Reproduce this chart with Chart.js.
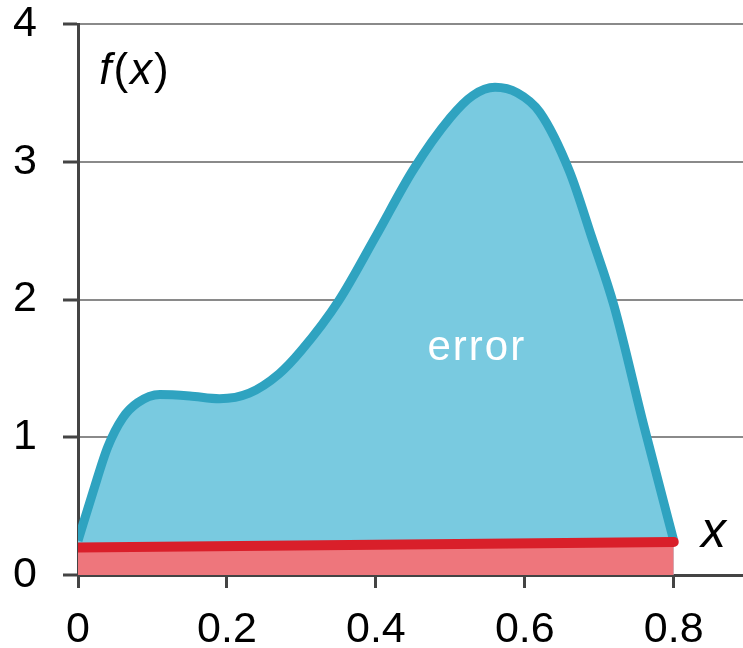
<!DOCTYPE html>
<html>
<head>
<meta charset="utf-8">
<script src="https://cdn.jsdelivr.net/npm/chart.js@4.4.1/dist/chart.umd.min.js"></script>
<style>
  html, body { margin: 0; padding: 0; background: #ffffff; }
  #wrap { width: 743px; height: 648px; position: relative; }
</style>
</head>
<body>
<div id="wrap"><canvas id="c" width="743" height="648"></canvas></div>
<script>
// ---- data ----
const curveX = [0, 0.02, 0.04, 0.06, 0.08, 0.11, 0.15, 0.19, 0.23, 0.27, 0.30, 0.35, 0.40, 0.45, 0.50, 0.53, 0.56, 0.59, 0.62, 0.66, 0.69, 0.72, 0.76, 0.80];
const curveY = [0.25, 0.60, 0.93, 1.14, 1.25, 1.31, 1.30, 1.28, 1.32, 1.46, 1.63, 1.99, 2.46, 2.94, 3.32, 3.48, 3.54, 3.50, 3.36, 2.93, 2.45, 1.95, 1.08, 0.25];
const approxX = [0, 0.8];
const approxY = [0.20, 0.24];
const xTicks = [0, 0.2, 0.4, 0.6, 0.8];
const yTicks = [0, 1, 2, 3, 4];
const labels = [
  { text: 'error', x: 0.5355, y: 1.62 },
  { text: 'f(x)', x: 0.0765, y: 3.65 },
  { text: 'x', x: 0.8535, y: 0.276 }
];

const FONT = '"Liberation Sans", Arial, sans-serif';

const textPlugin = {
  id: 'textLabels',
  afterDatasetsDraw(chart) {
    const ctx = chart.ctx;
    const xs = chart.scales.x, ys = chart.scales.y;
    ctx.save();
    ctx.textBaseline = 'middle';
    ctx.textAlign = 'center';
    // error
    const e = labels[0];
    ctx.fillStyle = '#ffffff';
    ctx.font = '42px ' + FONT;
    ctx.letterSpacing = '2px';
    ctx.fillText(e.text, xs.getPixelForValue(e.x), ys.getPixelForValue(e.y) - 3);
    ctx.letterSpacing = '0px';
    // f(x)
    const f = labels[1];
    ctx.fillStyle = '#000000';
    const parts = [
      { t: 'f', it: true }, { t: '(', it: false }, { t: 'x', it: true }, { t: ')', it: false }
    ];
    let total = 0;
    const widths = parts.map(p => {
      ctx.font = (p.it ? 'italic ' : '') + '44px ' + FONT;
      const w = ctx.measureText(p.t).width + 2;
      total += w;
      return w;
    });
    let px = xs.getPixelForValue(f.x) - total / 2;
    const py = ys.getPixelForValue(f.y);
    ctx.textAlign = 'left';
    parts.forEach((p, i) => {
      ctx.font = (p.it ? 'italic ' : '') + '44px ' + FONT;
      ctx.fillText(p.t, px, py);
      px += widths[i];
    });
    // x
    const xl = labels[2];
    ctx.textAlign = 'center';
    ctx.font = 'italic 50px ' + FONT;
    ctx.fillText(xl.text, xs.getPixelForValue(xl.x), ys.getPixelForValue(xl.y) - 4);
    ctx.restore();
  }
};

function zeroPad(s) { s.paddingTop = 0; s.paddingBottom = 0; s.paddingLeft = 0; s.paddingRight = 0; }

new Chart(document.getElementById('c'), {
  type: 'line',
  data: {
    datasets: [
      {
        label: 'approx',
        data: approxX.map((x, i) => ({ x, y: approxY[i] })),
        borderColor: '#d91f2a',
        backgroundColor: '#ee767c',
        borderWidth: 10,
        borderCapStyle: 'round',
        fill: 'origin',
        pointRadius: 0,
        tension: 0,
        order: 0
      },
      {
        label: 'f',
        data: curveX.map((x, i) => ({ x, y: curveY[i] })),
        borderColor: '#2fa3c0',
        backgroundColor: '#79cae0',
        borderWidth: 9,
        borderJoinStyle: 'round',
        fill: 'origin',
        pointRadius: 0,
        cubicInterpolationMode: 'monotone',
        order: 1
      }
    ]
  },
  options: {
    responsive: false,
    animation: false,
    devicePixelRatio: 1,
    layout: { padding: { top: 24, right: 0, left: 0, bottom: 0 } },
    plugins: { legend: { display: false }, tooltip: { enabled: false } },
    scales: {
      x: {
        type: 'linear',
        min: 0,
        max: 0.893,
        afterFit(s) { s.height = 73; zeroPad(s); },
        afterBuildTicks(s) { s.ticks = xTicks.map(v => ({ value: v })); },
        ticks: {
          includeBounds: false,
          color: '#000',
          font: { family: FONT, size: 43 },
          padding: 16,
          callback: v => String(v)
        },
        grid: {
          drawOnChartArea: false,
          drawTicks: true,
          tickLength: 13,
          tickColor: '#444',
          tickWidth: 3,
          color: '#444'
        },
        border: { color: '#444', width: 3 }
      },
      y: {
        min: 0,
        max: 4,
        afterFit(s) { s.width = 78; zeroPad(s); },
        afterBuildTicks(s) { s.ticks = yTicks.map(v => ({ value: v })); },
        ticks: {
          color: '#000',
          font: { family: FONT, size: 43 },
          padding: 26,
          callback: v => String(v)
        },
        grid: {
          color: '#8a8a8a',
          lineWidth: 2,
          tickLength: 15,
          tickColor: '#444',
          tickWidth: 3
        },
        border: { color: '#444', width: 3 }
      }
    }
  },
  plugins: [textPlugin]
});
</script>
</body>
</html>
